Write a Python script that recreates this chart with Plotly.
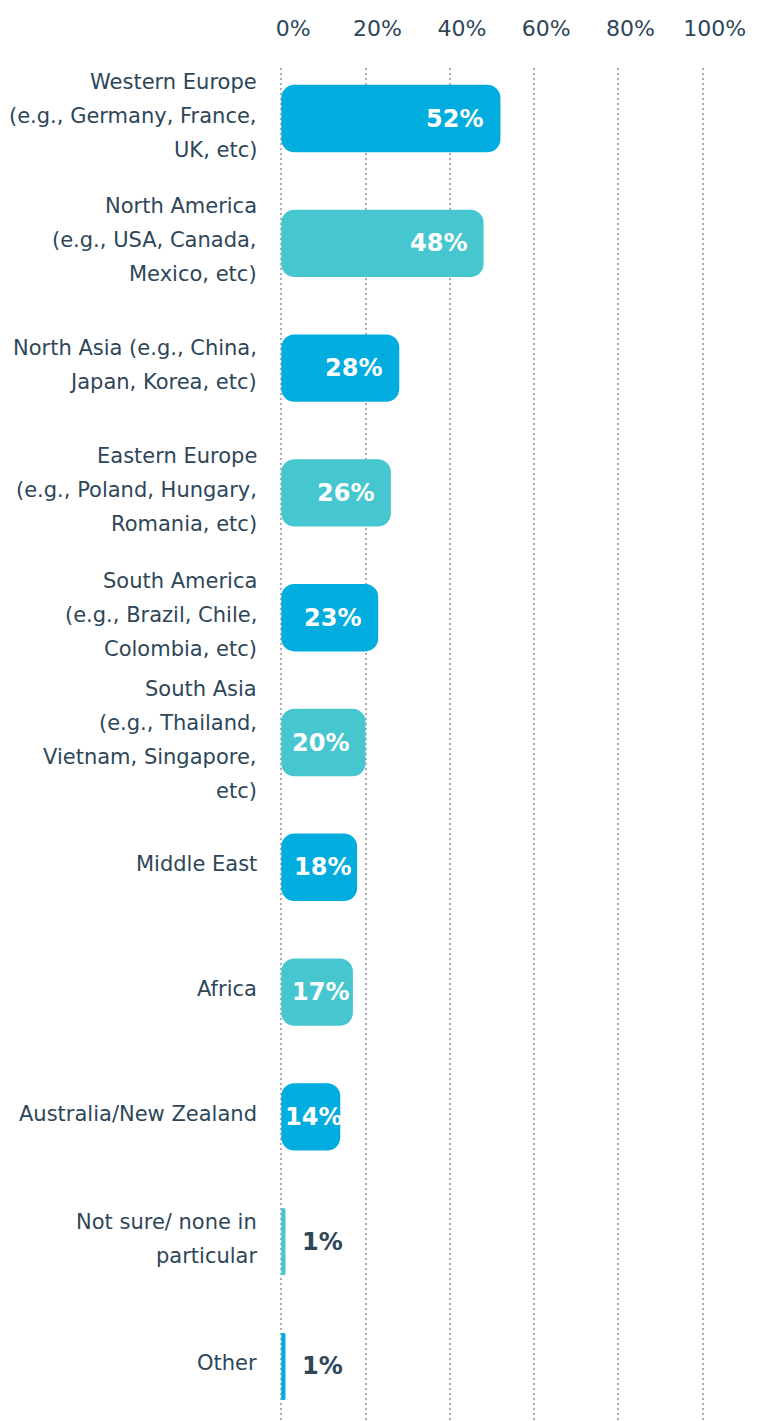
import plotly.graph_objects as go

# ---- data ----
categories = [
    "Western Europe\n(e.g., Germany, France,\nUK, etc)",
    "North America\n(e.g., USA, Canada,\nMexico, etc)",
    "North Asia (e.g., China,\nJapan, Korea, etc)",
    "Eastern Europe\n(e.g., Poland, Hungary,\nRomania, etc)",
    "South America\n(e.g., Brazil, Chile,\nColombia, etc)",
    "South Asia\n(e.g., Thailand,\nVietnam, Singapore,\netc)",
    "Middle East",
    "Africa",
    "Australia/New Zealand",
    "Not sure/ none in\nparticular",
    "Other",
]
values = [52, 48, 28, 26, 23, 20, 18, 17, 14, 1, 1]
tick_vals = [0, 20, 40, 60, 80, 100]
tick_text = ["0%", "20%", "40%", "60%", "80%", "100%"]

# ---- style ----
BLUE = "#00ADDE"
TEAL = "#46C7D0"
TEXT = "#2E4658"
GRID = "#A9ADB1"
FONT = "DejaVu Sans"
colors = [BLUE if i % 2 == 0 else TEAL for i in range(len(values))]
pos = list(range(len(values)))

fig = go.Figure()
# explicit base -> plotly rounds all four corners
fig.add_trace(go.Bar(
    x=values, base=0,
    y=pos, orientation="h", width=0.54,
    marker=dict(color=colors, cornerradius=13, line=dict(width=0)),
    hoverinfo="skip",
))

annotations = []
# category labels (one annotation per line for line spacing)
LINE = 34
for i, cat in enumerate(categories):
    lines = cat.split("\n")
    n = len(lines)
    for k, ln in enumerate(lines):
        annotations.append(dict(
            x=0, xref="paper", y=i, yref="y",
            text=ln, showarrow=False, xanchor="right", yanchor="middle",
            xshift=-21, yshift=((n - 1) / 2 - k) * LINE + 3,
            font=dict(family=FONT, size=21, color=TEXT),
        ))

# value labels
VAL_SIZE = 24
for i, v in enumerate(values):
    label = f"<b>{v}%</b>"
    if v >= 20:
        annotations.append(dict(x=v, y=i, xref="x", yref="y", text=label,
                                showarrow=False, xanchor="right", xshift=-15,
                                font=dict(family=FONT, size=VAL_SIZE, color="white")))
    elif v > 2:
        annotations.append(dict(x=v / 2, y=i, xref="x", yref="y", text=label,
                                showarrow=False, xanchor="center", xshift=3,
                                font=dict(family=FONT, size=VAL_SIZE, color="white")))
    else:
        annotations.append(dict(x=v, y=i, xref="x", yref="y", text=label,
                                showarrow=False, xanchor="left", xshift=15,
                                font=dict(family=FONT, size=VAL_SIZE, color=TEXT)))

fig.update_layout(
    width=752, height=1413,
    margin=dict(l=272, r=56, t=60, b=0, pad=0),
    paper_bgcolor="white", plot_bgcolor="white",
    showlegend=False,
    annotations=annotations,
    xaxis=dict(
        side="top", range=[-0.3, 100.3], tickvals=tick_vals, ticktext=tick_text,
        showgrid=True, gridcolor=GRID, gridwidth=2, griddash="2px,3px",
        zeroline=False, showline=False, ticks="",
        ticklabelstandoff=27, ticklabelshift=12,
        tickfont=dict(family=FONT, size=22, color=TEXT),
        fixedrange=True,
    ),
    yaxis=dict(
        range=[10.437, -0.405], showticklabels=False, showgrid=False,
        zeroline=False, ticks="", fixedrange=True,
    ),
)

fig.write_html("out.html")
